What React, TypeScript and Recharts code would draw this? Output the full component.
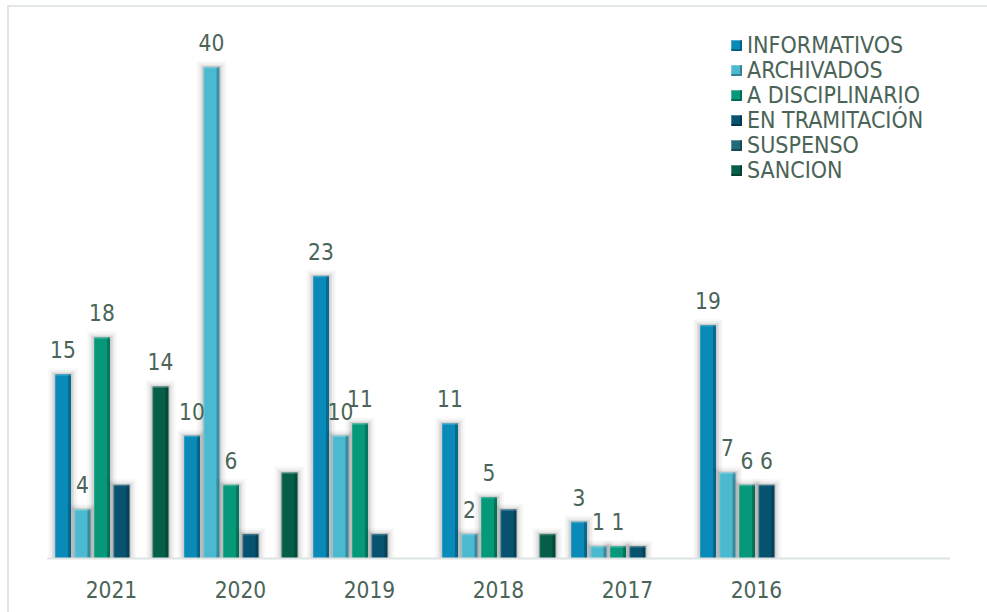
import React from "react";
import { BarChart, Bar, XAxis, YAxis, LabelList, Legend } from "recharts";

const years = ["2021", "2020", "2019", "2018", "2017", "2016", ""];
const informativos = [15, 10, 23, 11, 3, 19, null];
const archivados = [4, 40, 10, 2, 1, 7, null];
const aDisciplinario = [18, 6, 11, 5, 1, 6, null];
const enTramitacion = [6, 2, 2, 4, 1, 6, null];
const suspenso = [0, 0, 0, 0, 0, 0, null];
const sancion = [14, 7, 0, 2, 0, 0, null];

const informativosLabelShown = [true, true, true, true, true, true, false];
const archivadosLabelShown = [true, true, true, true, true, true, false];
const aDisciplinarioLabelShown = [true, true, true, true, true, true, false];
const enTramitacionLabelShown = [false, false, false, false, false, true, false];
const suspensoLabelShown = [false, false, false, false, false, false, false];
const sancionLabelShown = [true, false, false, false, false, false, false];

const series = [
  { key: "inf", name: "INFORMATIVOS", values: informativos, shown: informativosLabelShown, color: "#0a8ab8" },
  { key: "arch", name: "ARCHIVADOS", values: archivados, shown: archivadosLabelShown, color: "#4bbad0" },
  { key: "disc", name: "A DISCIPLINARIO", values: aDisciplinario, shown: aDisciplinarioLabelShown, color: "#05997a" },
  { key: "tram", name: "EN TRAMITACIÓN", values: enTramitacion, shown: enTramitacionLabelShown, color: "#06526f" },
  { key: "susp", name: "SUSPENSO", values: suspenso, shown: suspensoLabelShown, color: "#236b7a" },
  { key: "sanc", name: "SANCION", values: sancion, shown: sancionLabelShown, color: "#055e48" },
];

const data = years.map((year, i) => {
  const row: Record<string, any> = { year };
  series.forEach((s) => {
    row[s.key] = s.values[i];
  });
  return row;
});

const FONT = "'DejaVu Sans Condensed', 'DejaVu Sans', sans-serif";
const TEXT = "#4a6457";

const BevelBar = (props: any) => {
  const { x, y, width, height, fill } = props;
  if (!height || height <= 0) return null;
  return (
    <g>
      <rect x={x - 7} y={y - 6} width={width + 14} height={height + 6} fill="#000" opacity={0.025} />
      <rect x={x - 5} y={y - 4} width={width + 10} height={height + 4} fill="#000" opacity={0.04} />
      <rect x={x - 3} y={y - 2} width={width + 6} height={height + 2} fill="#000" opacity={0.06} />
      <rect x={x - 1.5} y={y - 1} width={width + 3} height={height + 1} fill="#000" opacity={0.08} />
      <rect x={x} y={y} width={width} height={height} fill={fill} />
      <rect x={x + width - 3} y={y} width={3} height={height} fill="#000" opacity={0.22} />
      <rect x={x} y={y} width={1} height={height} fill="#fff" opacity={0.15} />
      <rect x={x} y={y} width={width} height={1.5} fill="#fff" opacity={0.2} />
    </g>
  );
};

const makeLabel = (shown: boolean[]) => (props: any) => {
  const { x, y, width, value, index } = props;
  if (!shown[index] || value == null || value === 0) return null;
  return (
    <text
      x={x + width / 2}
      y={y - 16}
      textAnchor="middle"
      fontFamily={FONT}
      fontSize={22.5}
      fill={TEXT}
    >
      {value}
    </text>
  );
};

const YearTick = (props: any) => {
  const { x, y, payload } = props;
  return (
    <text x={x} y={y + 31} textAnchor="middle" fontFamily={FONT} fontSize={22.5} fill={TEXT}>
      {payload.value}
    </text>
  );
};

const LegendContent = () => (
  <div style={{ fontFamily: FONT, fontSize: 23, color: TEXT, lineHeight: "25px" }}>
    {series.map((s) => (
      <div key={s.key} style={{ display: "flex", alignItems: "center", height: 25, whiteSpace: "nowrap" }}>
        <span
          style={{
            display: "inline-block",
            width: 11,
            height: 11,
            background: s.color,
            boxShadow: "inset -2px -2px 0 rgba(0,0,0,0.3), inset 1px 1px 0 rgba(255,255,255,0.3)",
            marginRight: 5,
          }}
        />
        <span>{s.name}</span>
      </div>
    ))}
  </div>
);

export default function App() {
  return (
    <div
      style={{
        position: "absolute",
        left: 0,
        top: 0,
        width: 987,
        height: 612,
        overflow: "hidden",
        background: "#fff",
      }}
    >
      <div
        style={{
          position: "absolute",
          left: 7,
          top: 5,
          width: 1100,
          height: 800,
          border: "2px solid #e1e7e7",
        }}
      />
      <div style={{ position: "absolute", left: 0, top: 0 }}>
        <BarChart
          width={987}
          height={612}
          data={data}
          margin={{ top: 5.5, right: 37, left: 47, bottom: 23.5 }}
          barSize={16}
          barGap={3.5}
        >
          <XAxis
            dataKey="year"
            height={30}
            tickLine={false}
            axisLine={{ stroke: "#dde3e3", strokeWidth: 2 }}
            tick={<YearTick />}
            interval={0}
          />
          <YAxis hide domain={[0, 45]} />
          <Legend
            layout="vertical"
            align="center"
            verticalAlign="middle"
            wrapperStyle={{ left: 731, top: 33, width: "auto" }}
            content={<LegendContent />}
          />
          {series.map((s) => (
            <Bar
              key={s.key}
              dataKey={s.key}
              name={s.name}
              fill={s.color}
              shape={<BevelBar />}
              isAnimationActive={false}
            >
              <LabelList dataKey={s.key} content={makeLabel(s.shown)} />
            </Bar>
          ))}
        </BarChart>
      </div>
    </div>
  );
}
